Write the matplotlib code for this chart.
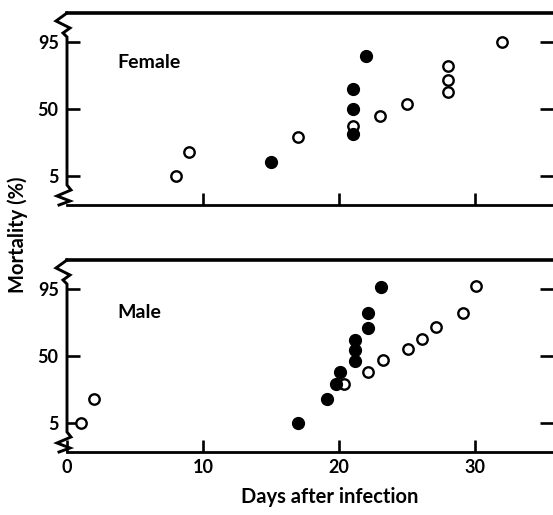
import math
import numpy as np
import matplotlib
matplotlib.use("Agg")
import matplotlib.pyplot as plt

plt.rcParams['font.family'] = ['Lato', 'DejaVu Sans']

# mortality (%) against days after infection, open = one group, filled = other
female_open_days = [8, 9, 17, 21, 23, 25, 28, 28, 28, 32]
female_open_pct = [5, 15, 25, 34, 43, 55, 66, 76, 85, 95]
female_filled_days = [15, 21, 21, 21, 22]
female_filled_pct = [10, 27, 50, 69, 90]

male_open_days = [1, 2, 20.4, 22.1, 23.2, 25.1, 26.1, 27.1, 29.1, 30.1]
male_open_pct = [5, 15, 24.5, 34.5, 46, 57, 66.5, 76, 85.5, 95.5]
male_filled_days = [17, 19.1, 19.8, 20.1, 21.2, 21.2, 21.2, 22.1, 22.1, 23.1]
male_filled_pct = [5, 15, 25, 34.5, 45.5, 56, 65, 75.5, 85, 95.3]

y_ticks = [5, 50, 95]
x_ticks = [0, 10, 20, 30]

WT = 'bold'

_erf = np.vectorize(math.erf, otypes=[float])


def inv_probit(z):
    z = np.asarray(z, dtype=float)
    return 50.0 * (1.0 + _erf(z / math.sqrt(2.0)))


def probit(p):
    p = np.clip(np.asarray(p, dtype=float), 1e-7, 100 - 1e-7)
    lo = np.full(p.shape, -9.0)
    hi = np.full(p.shape, 9.0)
    for _ in range(50):
        mid = 0.5 * (lo + hi)
        below = inv_probit(mid) < p
        lo = np.where(below, mid, lo)
        hi = np.where(below, hi, mid)
    return 0.5 * (lo + hi)


fig = plt.figure(figsize=(5.53, 5.15), dpi=100)
W, H = 486.0, 192.0
ax_top = fig.add_axes([67 / 553, 1 - 205 / 515, W / 553, H / 515])
ax_bot = fig.add_axes([67 / 553, 1 - 452 / 515, W / 553, H / 515])

panels = [
    (ax_top, female_open_days, female_open_pct, female_filled_days, female_filled_pct, "Female", 63 - 13),
    (ax_bot, male_open_days, male_open_pct, male_filled_days, male_filled_pct, "Male", 312 - 260),
]

for ax, od, op, fd, fp, name, name_dy in panels:
    ax.set_yscale('function', functions=(probit, inv_probit))
    ax.set_ylim(inv_probit(-2.34), inv_probit(2.34))
    ax.set_xlim(0, W / 13.6)
    ax.plot(od, op, 'o', ms=7.5, mfc='white', mec='black', mew=1.7, ls='none', clip_on=False)
    ax.plot(fd, fp, 'o', ms=8.5, mfc='black', mec='black', ls='none', clip_on=False)
    ax.set_yticks(y_ticks)
    ax.set_yticklabels([str(v) for v in y_ticks], fontweight=WT)
    ax.yaxis.set_minor_locator(matplotlib.ticker.NullLocator())
    ax.set_xticks([10, 20, 30])
    ax.tick_params(axis='y', which='major', direction='in', length=9.5, width=1.9,
                   left=True, right=True, labelsize=13, pad=6)
    ax.tick_params(axis='x', which='major', direction='in', length=8.5, width=1.9,
                   bottom=True, top=False, labelsize=13, pad=5)
    ax.spines['left'].set_visible(False)
    ax.spines['right'].set_visible(False)
    ax.spines['top'].set_linewidth(2.6)
    ax.spines['bottom'].set_linewidth(2.0)
    ax.text((117 - 67) / W, 1 - name_dy / H, name, transform=ax.transAxes,
            fontsize=14, va='center', ha='left', fontweight=WT)

    # left axis with broken-scale squiggles at both ends
    px = [-8, 3, -10, 4, 0, 0, -4, 3, -11, 0]
    py = [0, 4, 9, 15, 20, H - 24, H - 20, H - 15, H - 8, H]
    ax.plot(np.array(px) / W, np.array(py) / H, color='black', lw=2.1,
            transform=ax.transAxes, clip_on=False, solid_joinstyle='miter')

ax_top.tick_params(axis='x', labelbottom=False)
ax_bot.set_xticks(x_ticks)
ax_bot.set_xticklabels([str(v) for v in x_ticks], fontweight=WT)
ax_bot.set_xlabel("Days after infection", fontsize=14.5, fontweight=WT, va='center')
ax_bot.xaxis.set_label_coords((330 - 67) / W, -(497 - 452) / H)
fig.text(18 / 553, 1 - 235 / 515, "Mortality (%)", rotation=90,
         fontsize=14.5, ha='center', va='center', fontweight=WT)

fig.savefig("out.png", dpi=100)
